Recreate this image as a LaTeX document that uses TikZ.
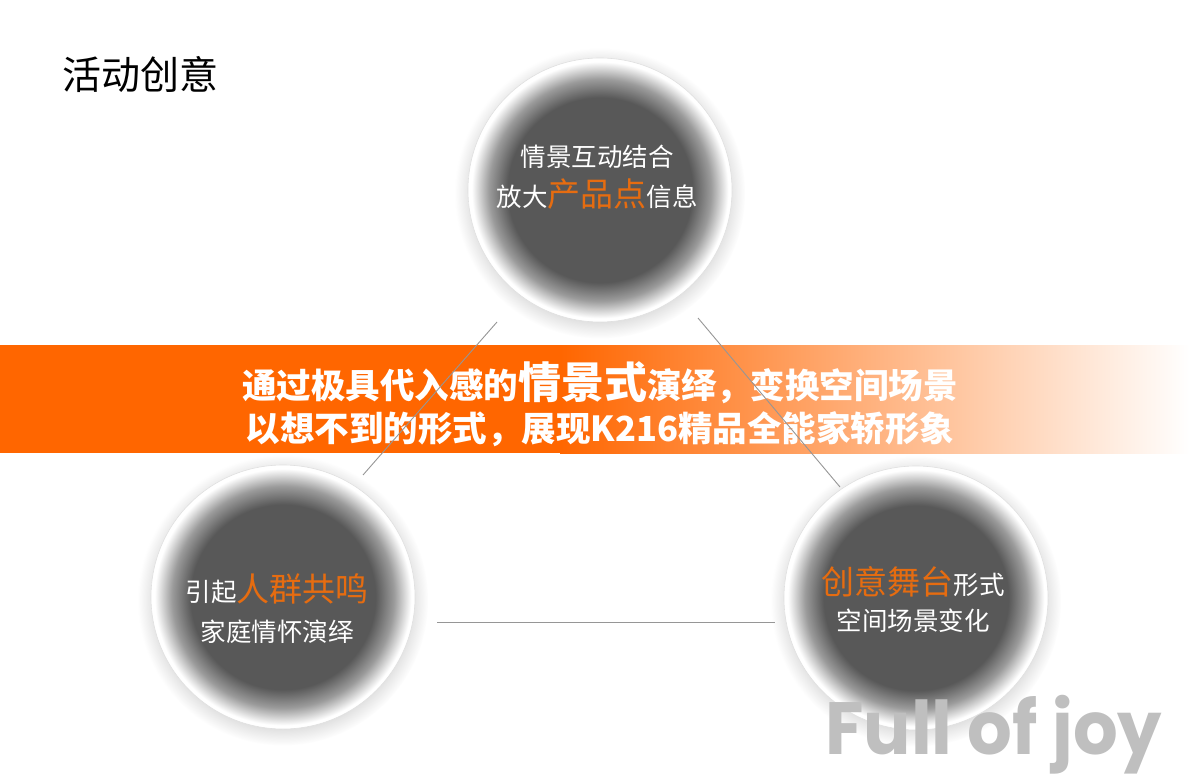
\documentclass[tikz,border=0pt]{standalone}
\usepackage{fontspec}
\usetikzlibrary{positioning,shadows}
\setmainfont{Noto Sans CJK SC}
\newfontfamily\joyfont{Poppins}
\definecolor{bandorange}{RGB}{255,102,0}
\definecolor{textorange}{RGB}{230,108,16}
\definecolor{discgray}{RGB}{88,88,88}
\definecolor{linegray}{RGB}{150,150,150}
\definecolor{joygray}{RGB}{191,191,191}
\pgfdeclareradialshading{disc}{\pgfpoint{0bp}{0bp}}{color(0bp)=(discgray); color(17.5bp)=(discgray); color(21bp)=(discgray!60); color(24.3bp)=(white); color(25bp)=(white); color(50bp)=(white)}
\newcommand\hot[1]{{\color{textorange}\fontsize{33}{40}\selectfont #1}}
\newcommand\bandbig[1]{{\fontsize{43}{44}\selectfont #1}}
\tikzset{
  bubble/.style={circle, minimum size=264pt, inner sep=0pt, shade, shading=disc,
    draw=black!12, line width=0.6pt,
    circular drop shadow={shadow xshift=0pt, shadow yshift=-3pt, opacity=0.3}},
  bubbletext/.style={text=white, align=center, inner sep=0pt,
    font=\fontsize{25.5}{40}\selectfont},
  bandtext/.style={text=white, align=center, inner sep=0pt,
    font=\bfseries\fontsize{34.5}{43}\selectfont},
  link/.style={draw=linegray, line width=0.9pt}
}
\begin{document}
\begin{tikzpicture}[x=1pt,y=-1pt]
\useasboundingbox (0,0) rectangle (1200,778);
\node[anchor=base west, inner sep=0pt, font=\fontsize{39}{40}\selectfont] (title) at (62,90) {活动创意};
\fill[bandorange] (0,345) rectangle (560,453);
\shade[left color=bandorange, right color=white] (560,345) rectangle (1190,453);
\node[bandtext] (slogan) at (600,404) {通过极具代入感的\bandbig{情景式}演绎，变换空间场景\\以想不到的形式，展现K216精品全能家轿形象};
\node[bubble] (top) at (600,190) {};
\node[bubble] (bl) at (283,597) {};
\node[bubble] (br) at (916,598) {};
\node[bubbletext] (toptext) at ([xshift=-3pt,yshift=13pt]top.center) {情景互动结合\\放大\hot{产品点}信息};
\node[bubbletext] (bltext) at ([xshift=-6pt,yshift=-12pt]bl.center) {引起\hot{人群共鸣}\\家庭情怀演绎};
\node[bubbletext] (brtext) at ([xshift=-3pt,yshift=-2pt]br.center) {\hot{创意舞台}形式\\[-4pt]空间场景变化};
\draw[link] ([shift={(-103,132)}]top.center) -- ([shift={(80,-122)}]bl.center);
\draw[link] ([shift={(98,128)}]top.center) -- ([shift={(-76,-111)}]br.center);
\draw[link] ([shift={(154,25)}]bl.center) -- ([shift={(-141,24)}]br.center);
\node[anchor=base west, inner sep=0pt, text=joygray, xscale=0.95, transform shape,
  font=\joyfont\bfseries\fontsize{74}{74}\selectfont] (joy) at (825,754) {Full of joy};
\end{tikzpicture}
\end{document}
